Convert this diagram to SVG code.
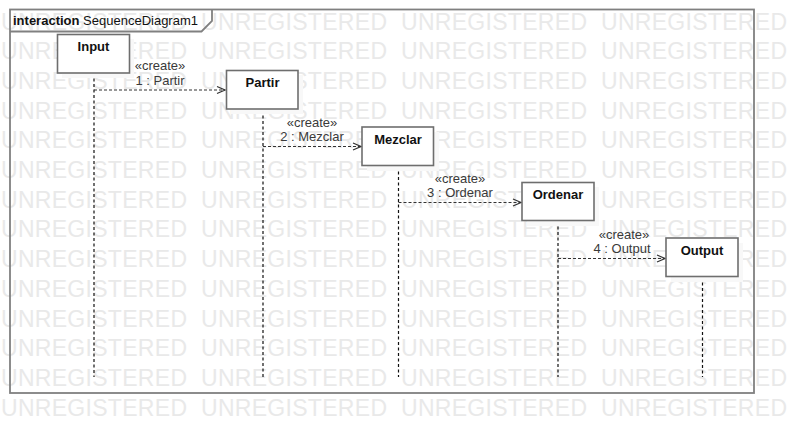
<svg xmlns="http://www.w3.org/2000/svg" width="794" height="434" viewBox="0 0 794 434">
<defs>
<style>
.wm{font-family:"Liberation Sans",Arial,sans-serif;font-size:23px;fill:#e9e9e9}
.frame{fill:none;stroke:#808080;stroke-width:1.8}
.box{fill:#ffffff;stroke:#6e6e6e;stroke-width:1.6}
.shadow{fill:#f8f8f8}
.name{font-family:"Liberation Sans",Arial,sans-serif;font-size:13px;font-weight:bold;fill:#111;text-anchor:middle}
.life{stroke:#111;stroke-width:1.2;stroke-dasharray:3 2.5;fill:none}
.msg{stroke:#333;stroke-width:1.2;stroke-dasharray:3 2;fill:none}
.lbl{font-family:"Liberation Sans",Arial,sans-serif;font-size:13px;fill:#3a3a3a;text-anchor:middle}
.title{font-family:"Liberation Sans",Arial,sans-serif;font-size:13px;fill:#111}
</style>
<marker id="open" markerWidth="10" markerHeight="10" refX="9" refY="5" orient="auto" markerUnits="userSpaceOnUse">
<path d="M1,1.5 L9,5 L1,8.5" fill="none" stroke="#333" stroke-width="1.2"/>
</marker>
</defs>
<rect width="794" height="434" fill="#ffffff"/>
<g id="watermark">
<text class="wm" x="1" y="29.5" textLength="186">UNREGISTERED</text><text class="wm" x="201" y="29.5" textLength="186">UNREGISTERED</text><text class="wm" x="401" y="29.5" textLength="186">UNREGISTERED</text><text class="wm" x="601" y="29.5" textLength="186">UNREGISTERED</text>
<text class="wm" x="1" y="59.2" textLength="186">UNREGISTERED</text><text class="wm" x="201" y="59.2" textLength="186">UNREGISTERED</text><text class="wm" x="401" y="59.2" textLength="186">UNREGISTERED</text><text class="wm" x="601" y="59.2" textLength="186">UNREGISTERED</text>
<text class="wm" x="1" y="88.9" textLength="186">UNREGISTERED</text><text class="wm" x="201" y="88.9" textLength="186">UNREGISTERED</text><text class="wm" x="401" y="88.9" textLength="186">UNREGISTERED</text><text class="wm" x="601" y="88.9" textLength="186">UNREGISTERED</text>
<text class="wm" x="1" y="118.6" textLength="186">UNREGISTERED</text><text class="wm" x="201" y="118.6" textLength="186">UNREGISTERED</text><text class="wm" x="401" y="118.6" textLength="186">UNREGISTERED</text><text class="wm" x="601" y="118.6" textLength="186">UNREGISTERED</text>
<text class="wm" x="1" y="148.3" textLength="186">UNREGISTERED</text><text class="wm" x="201" y="148.3" textLength="186">UNREGISTERED</text><text class="wm" x="401" y="148.3" textLength="186">UNREGISTERED</text><text class="wm" x="601" y="148.3" textLength="186">UNREGISTERED</text>
<text class="wm" x="1" y="178" textLength="186">UNREGISTERED</text><text class="wm" x="201" y="178" textLength="186">UNREGISTERED</text><text class="wm" x="401" y="178" textLength="186">UNREGISTERED</text><text class="wm" x="601" y="178" textLength="186">UNREGISTERED</text>
<text class="wm" x="1" y="207.7" textLength="186">UNREGISTERED</text><text class="wm" x="201" y="207.7" textLength="186">UNREGISTERED</text><text class="wm" x="401" y="207.7" textLength="186">UNREGISTERED</text><text class="wm" x="601" y="207.7" textLength="186">UNREGISTERED</text>
<text class="wm" x="1" y="237.4" textLength="186">UNREGISTERED</text><text class="wm" x="201" y="237.4" textLength="186">UNREGISTERED</text><text class="wm" x="401" y="237.4" textLength="186">UNREGISTERED</text><text class="wm" x="601" y="237.4" textLength="186">UNREGISTERED</text>
<text class="wm" x="1" y="267.1" textLength="186">UNREGISTERED</text><text class="wm" x="201" y="267.1" textLength="186">UNREGISTERED</text><text class="wm" x="401" y="267.1" textLength="186">UNREGISTERED</text><text class="wm" x="601" y="267.1" textLength="186">UNREGISTERED</text>
<text class="wm" x="1" y="296.8" textLength="186">UNREGISTERED</text><text class="wm" x="201" y="296.8" textLength="186">UNREGISTERED</text><text class="wm" x="401" y="296.8" textLength="186">UNREGISTERED</text><text class="wm" x="601" y="296.8" textLength="186">UNREGISTERED</text>
<text class="wm" x="1" y="326.5" textLength="186">UNREGISTERED</text><text class="wm" x="201" y="326.5" textLength="186">UNREGISTERED</text><text class="wm" x="401" y="326.5" textLength="186">UNREGISTERED</text><text class="wm" x="601" y="326.5" textLength="186">UNREGISTERED</text>
<text class="wm" x="1" y="356.2" textLength="186">UNREGISTERED</text><text class="wm" x="201" y="356.2" textLength="186">UNREGISTERED</text><text class="wm" x="401" y="356.2" textLength="186">UNREGISTERED</text><text class="wm" x="601" y="356.2" textLength="186">UNREGISTERED</text>
<text class="wm" x="1" y="385.9" textLength="186">UNREGISTERED</text><text class="wm" x="201" y="385.9" textLength="186">UNREGISTERED</text><text class="wm" x="401" y="385.9" textLength="186">UNREGISTERED</text><text class="wm" x="601" y="385.9" textLength="186">UNREGISTERED</text>
<text class="wm" x="1" y="415.6" textLength="186">UNREGISTERED</text><text class="wm" x="201" y="415.6" textLength="186">UNREGISTERED</text><text class="wm" x="401" y="415.6" textLength="186">UNREGISTERED</text><text class="wm" x="601" y="415.6" textLength="186">UNREGISTERED</text>
</g>
<g id="frame">
<rect class="frame" x="10" y="9.5" width="744" height="383.5"/>
<path class="frame" d="M10,31.5 H201.5 L212,21 V9.5"/>
<text class="title" x="13" y="25"><tspan font-weight="bold">interaction</tspan> SequenceDiagram1</text>
</g>
<g id="lifelines">
<line class="life" x1="94" y1="73" x2="94" y2="377"/>
<line class="life" x1="263" y1="110" x2="263" y2="377"/>
<line class="life" x1="398.5" y1="166" x2="398.5" y2="377"/>
<line class="life" x1="558" y1="221" x2="558" y2="377"/>
<line class="life" x1="702.5" y1="277" x2="702.5" y2="377"/>
</g>
<g id="connectors">
<line class="msg" x1="94" y1="90" x2="225" y2="90" marker-end="url(#open)"/>
<text class="lbl" x="160" y="70">«create»</text>
<text class="lbl" x="160" y="84.5">1 : Partir</text>
<line class="msg" x1="263" y1="146.5" x2="361" y2="146.5" marker-end="url(#open)"/>
<text class="lbl" x="312" y="126.5">«create»</text>
<text class="lbl" x="312" y="141">2 : Mezclar</text>
<line class="msg" x1="398.5" y1="202.5" x2="521" y2="202.5" marker-end="url(#open)"/>
<text class="lbl" x="460" y="182.5">«create»</text>
<text class="lbl" x="460" y="197">3 : Ordenar</text>
<line class="msg" x1="558" y1="258.5" x2="665" y2="258.5" marker-end="url(#open)"/>
<text class="lbl" x="624" y="238.5">«create»</text>
<text class="lbl" x="622" y="243.5" dy="9.5">4 : Output</text>
</g>
<g id="Input">
<rect class="shadow" x="62" y="39" width="72" height="39"/>
<rect class="box" x="57.5" y="34.5" width="72" height="38.5"/>
<text class="name" x="93.5" y="50.5">Input</text>
</g>
<g id="Partir">
<rect class="shadow" x="231" y="75" width="72" height="39"/>
<rect class="box" x="226.5" y="70.5" width="71.5" height="38.5"/>
<text class="name" x="262.5" y="87">Partir</text>
</g>
<g id="Mezclar">
<rect class="shadow" x="367" y="132" width="72" height="39"/>
<rect class="box" x="362" y="127" width="71.5" height="38.5"/>
<text class="name" x="398" y="143.5">Mezclar</text>
</g>
<g id="Ordenar">
<rect class="shadow" x="527" y="187" width="72" height="39"/>
<rect class="box" x="522" y="182.5" width="72" height="38"/>
<text class="name" x="558" y="199">Ordenar</text>
</g>
<g id="Output">
<rect class="shadow" x="671" y="243" width="72" height="39"/>
<rect class="box" x="666" y="238" width="72" height="38.5"/>
<text class="name" x="702" y="254.5">Output</text>
</g>
</svg>
